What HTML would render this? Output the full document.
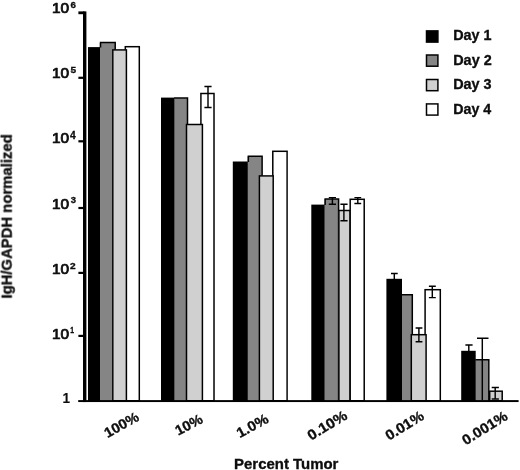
<!DOCTYPE html>
<html><head><meta charset="utf-8"><title>IgH/GAPDH normalized vs Percent Tumor</title>
<style>html,body{margin:0;padding:0;background:#fff}svg{display:block}text{font-family:"Liberation Sans",Arial,Helvetica,sans-serif;font-weight:bold;fill:#0a0a0a;stroke:#0a0a0a;stroke-width:0.3px}</style></head><body>
<svg width="520" height="470" viewBox="0 0 520 470">
<defs><filter id="soft" x="-5%" y="-5%" width="110%" height="110%"><feGaussianBlur stdDeviation="0.35"/></filter></defs>
<rect width="520" height="470" fill="#fff"/>
<g filter="url(#soft)">
<rect x="99.70" y="42.60" width="15.50" height="358.40" fill="#858585"/>
<path d="M100.55 47.60V42.60H115.20V401.0" fill="none" stroke="#050505" stroke-width="1.5" stroke-linejoin="miter"/>
<rect x="88.00" y="47.10" width="12.00" height="353.90" fill="#000"/>
<rect x="125.30" y="46.70" width="14.00" height="354.30" fill="#fff" stroke="#050505" stroke-width="1.5"/>
<rect x="112.80" y="49.90" width="13.60" height="351.10" fill="#d0d0d0" stroke="#050505" stroke-width="1.5"/>
<rect x="174.10" y="98.10" width="13.40" height="302.90" fill="#858585"/>
<path d="M174.10 98.10H187.50V401.0" fill="none" stroke="#050505" stroke-width="1.5" stroke-linejoin="miter"/>
<rect x="161.00" y="97.60" width="13.40" height="303.40" fill="#000"/>
<rect x="200.90" y="93.50" width="13.10" height="307.50" fill="#fff" stroke="#050505" stroke-width="1.5"/>
<rect x="186.50" y="124.50" width="15.90" height="276.50" fill="#d0d0d0" stroke="#050505" stroke-width="1.5"/>
<rect x="247.50" y="156.30" width="14.60" height="244.70" fill="#858585"/>
<path d="M248.35 162.00V156.30H262.10V401.0" fill="none" stroke="#050505" stroke-width="1.5" stroke-linejoin="miter"/>
<rect x="232.80" y="161.50" width="15.00" height="239.50" fill="#000"/>
<rect x="272.80" y="151.30" width="14.30" height="249.70" fill="#fff" stroke="#050505" stroke-width="1.5"/>
<rect x="259.40" y="175.90" width="13.80" height="225.10" fill="#d0d0d0" stroke="#050505" stroke-width="1.5"/>
<rect x="324.30" y="199.00" width="14.30" height="202.00" fill="#858585"/>
<path d="M325.15 205.10V199.00H338.60V401.0" fill="none" stroke="#050505" stroke-width="1.5" stroke-linejoin="miter"/>
<rect x="311.30" y="204.60" width="13.30" height="196.40" fill="#000"/>
<rect x="350.20" y="199.30" width="14.00" height="201.70" fill="#fff" stroke="#050505" stroke-width="1.5"/>
<rect x="338.90" y="210.50" width="11.00" height="190.50" fill="#d0d0d0" stroke="#050505" stroke-width="1.5"/>
<rect x="401.70" y="294.70" width="10.60" height="106.30" fill="#858585"/>
<path d="M401.70 294.70H412.30V401.0" fill="none" stroke="#050505" stroke-width="1.5" stroke-linejoin="miter"/>
<rect x="386.40" y="278.80" width="15.60" height="122.20" fill="#000"/>
<rect x="425.10" y="289.70" width="15.20" height="111.30" fill="#fff" stroke="#050505" stroke-width="1.5"/>
<rect x="411.30" y="334.70" width="14.80" height="66.30" fill="#d0d0d0" stroke="#050505" stroke-width="1.5"/>
<rect x="475.40" y="359.70" width="13.40" height="41.30" fill="#858585"/>
<path d="M475.40 359.70H488.80V401.0" fill="none" stroke="#050505" stroke-width="1.5" stroke-linejoin="miter"/>
<rect x="461.20" y="350.80" width="14.50" height="50.20" fill="#000"/>
<rect x="489.70" y="391.20" width="12.50" height="9.80" fill="#d0d0d0" stroke="#050505" stroke-width="1.5"/>
<path d="M208.0 86.4V107.4M204.4 86.4H211.6M204.4 107.4H211.6" stroke="#050505" stroke-width="1.45" fill="none"/>
<path d="M332.4 197.6V204.2M328.8 197.6H336.0M328.8 204.2H336.0" stroke="#050505" stroke-width="1.45" fill="none"/>
<path d="M343.9 204.2V220.8M340.4 204.2H347.6M340.4 220.8H347.6" stroke="#050505" stroke-width="1.45" fill="none"/>
<path d="M357.8 197.6V203.5M354.4 197.6H361.2M354.4 203.5H361.2" stroke="#050505" stroke-width="1.45" fill="none"/>
<path d="M394.3 273.5V280.0M391.0 273.5H397.7" stroke="#050505" stroke-width="1.45" fill="none"/>
<path d="M432.3 286.2V297.6M428.9 286.2H435.8M428.9 297.6H435.8" stroke="#050505" stroke-width="1.45" fill="none"/>
<path d="M418.9 328.0V341.8M415.6 328.0H422.4M415.6 341.8H422.4" stroke="#050505" stroke-width="1.45" fill="none"/>
<path d="M468.8 344.9V352.0M465.4 344.9H472.6" stroke="#050505" stroke-width="1.45" fill="none"/>
<path d="M482.3 338.2V400.0M477.0 338.2H488.5" stroke="#050505" stroke-width="1.45" fill="none"/>
<path d="M495.2 387.5V399.0M491.7 387.5H498.9M491.7 399.0H498.9" stroke="#050505" stroke-width="1.45" fill="none"/>
<rect x="83.0" y="11.4" width="3.4" height="390.65" fill="#000"/>
<rect x="78.2" y="400.1" width="440.4" height="1.95" fill="#000"/>
<rect x="78.4" y="11.4" width="6" height="2.8" fill="#000"/>
<rect x="78.4" y="76.7" width="6" height="2.2" fill="#000"/>
<rect x="78.4" y="140.2" width="6" height="2.2" fill="#000"/>
<rect x="78.4" y="206.9" width="6" height="2.2" fill="#000"/>
<rect x="78.4" y="271.8" width="6" height="2.2" fill="#000"/>
<rect x="78.4" y="334.8" width="6" height="2.2" fill="#000"/>
<text transform="translate(51.95 13.40) scale(1.0935 1)" font-size="14.1" style="font-weight:normal;stroke-width:0.75px;stroke-linejoin:round">10</text>
<text transform="translate(70.58 8.30) scale(0.9943 1)" font-size="9.8" style="stroke-width:0.3px">6</text>
<text transform="translate(51.95 77.90) scale(1.0935 1)" font-size="14.1" style="font-weight:normal;stroke-width:0.75px;stroke-linejoin:round">10</text>
<text transform="translate(70.53 72.80) scale(1.0289 1)" font-size="9.8" style="stroke-width:0.3px">5</text>
<text transform="translate(51.95 142.70) scale(1.0935 1)" font-size="14.1" style="font-weight:normal;stroke-width:0.75px;stroke-linejoin:round">10</text>
<text transform="translate(69.89 138.70) scale(0.9378 1)" font-size="11.0" style="stroke-width:0.3px">4</text>
<text transform="translate(51.95 208.70) scale(1.0935 1)" font-size="14.1" style="font-weight:normal;stroke-width:0.75px;stroke-linejoin:round">10</text>
<text transform="translate(70.63 203.30) scale(0.9661 1)" font-size="9.8" style="stroke-width:0.3px">3</text>
<text transform="translate(51.95 273.70) scale(1.0935 1)" font-size="14.1" style="font-weight:normal;stroke-width:0.75px;stroke-linejoin:round">10</text>
<text transform="translate(70.00 268.60) scale(1.0595 1)" font-size="9.6" style="stroke-width:0.3px">2</text>
<text transform="translate(51.95 338.70) scale(1.0935 1)" font-size="14.1" style="font-weight:normal;stroke-width:0.75px;stroke-linejoin:round">10</text>
<text transform="translate(70.28 333.30) scale(0.7000 1)" font-size="9.8" style="stroke-width:0.3px">1</text>
<text transform="translate(62.40 403.30) scale(0.9615 1)" font-size="14.1" style="stroke-width:0.1px">1</text>
<text transform="translate(11.7 298.55) rotate(-90) scale(1.0254 1)" font-size="14.5">IgH/GAPDH normalized</text>
<text transform="translate(234.05 468.80) scale(1.0612 1)" font-size="14.1">Percent Tumor</text>
<text transform="translate(107.41 438.14) rotate(-29.27) scale(1.0386 1)" font-size="14.1">100%</text>
<text transform="translate(178.14 435.86) rotate(-28.03) scale(1.0298 1)" font-size="14.1">10%</text>
<text transform="translate(239.64 438.26) rotate(-28.79) scale(1.0641 1)" font-size="14.1">1.0%</text>
<text transform="translate(311.10 440.76) rotate(-31.37) scale(1.0904 1)" font-size="14.1">0.10%</text>
<text transform="translate(388.88 440.83) rotate(-31.68) scale(1.0634 1)" font-size="14.1">0.01%</text>
<text transform="translate(465.83 445.43) rotate(-31.99) scale(1.0569 1)" font-size="14.1">0.001%</text>
<rect x="426.5" y="30.90" width="11.4" height="11.2" fill="#000" stroke="#050505" stroke-width="1.5"/>
<text transform="translate(453.18 40.20) scale(1.0199 1)" font-size="14.1">Day 1</text>
<rect x="426.5" y="55.00" width="11.4" height="11.2" fill="#858585" stroke="#050505" stroke-width="1.5"/>
<text transform="translate(453.18 64.60) scale(1.0248 1)" font-size="14.1">Day 2</text>
<rect x="426.5" y="79.50" width="11.4" height="11.2" fill="#d0d0d0" stroke="#050505" stroke-width="1.5"/>
<text transform="translate(453.18 89.40) scale(1.0229 1)" font-size="14.1">Day 3</text>
<rect x="426.5" y="103.90" width="11.4" height="11.2" fill="#fff" stroke="#050505" stroke-width="1.5"/>
<text transform="translate(453.19 113.60) scale(1.0111 1)" font-size="14.1">Day 4</text>
</g></svg></body></html>
